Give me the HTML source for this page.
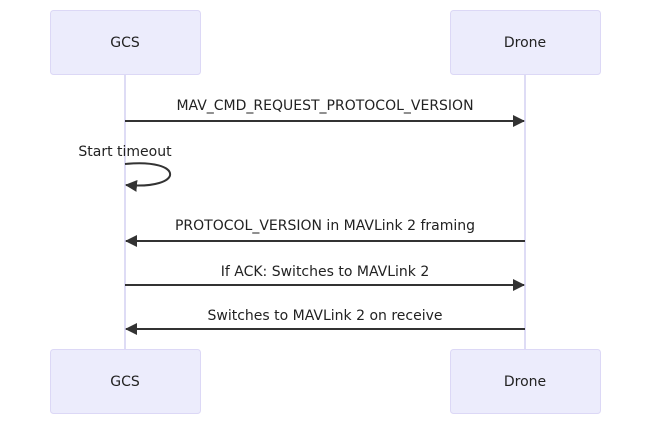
<!DOCTYPE html>
<html><head><meta charset="utf-8"><style>
html,body{margin:0;padding:0;background:#fff;}
svg{display:block;}
text{font-family:"DejaVu Sans","Liberation Sans",sans-serif;font-size:14px;fill:#222;}
</style></head><body>
<svg width="650" height="425" viewBox="0 0 650 425" xmlns="http://www.w3.org/2000/svg">
<defs>
<marker id="ah" viewBox="0 0 12 12" refX="11" refY="6" markerWidth="12" markerHeight="12" markerUnits="userSpaceOnUse" orient="auto">
<path d="M0,0 L12,6 L0,12 z" fill="#333"/>
</marker>
</defs>
<line x1="125" y1="75" x2="125" y2="349" stroke="#d4d0f2" stroke-width="1.5"/>
<line x1="525" y1="75" x2="525" y2="349" stroke="#d4d0f2" stroke-width="1.5"/>
<g fill="#ececfc" stroke="#dcd8f6" stroke-width="1">
<rect x="50.5" y="10.5" width="150" height="64" rx="3"/>
<rect x="450.5" y="10.5" width="150" height="64" rx="3"/>
<rect x="50.5" y="349.5" width="150" height="64" rx="3"/>
<rect x="450.5" y="349.5" width="150" height="64" rx="3"/>
</g>
<g text-anchor="middle" dominant-baseline="central">
<text x="125" y="43">GCS</text>
<text x="525" y="43">Drone</text>
<text x="125" y="382">GCS</text>
<text x="525" y="382">Drone</text>
</g>
<g stroke="#333" stroke-width="2" fill="none">
<line x1="125" y1="121" x2="524" y2="121" marker-end="url(#ah)"/>
<path d="M125,164 C185,158 185,190 126,185" marker-end="url(#ah)"/>
<line x1="525" y1="241" x2="126" y2="241" marker-end="url(#ah)"/>
<line x1="125" y1="285" x2="524" y2="285" marker-end="url(#ah)"/>
<line x1="525" y1="329" x2="126" y2="329" marker-end="url(#ah)"/>
</g>
<g text-anchor="middle">
<text x="325" y="110">MAV_CMD_REQUEST_PROTOCOL_VERSION</text>
<text x="125" y="156">Start timeout</text>
<text x="325" y="230">PROTOCOL_VERSION in MAVLink 2 framing</text>
<text x="325" y="276">If ACK: Switches to MAVLink 2</text>
<text x="325" y="320">Switches to MAVLink 2 on receive</text>
</g>
</svg>
</body></html>
